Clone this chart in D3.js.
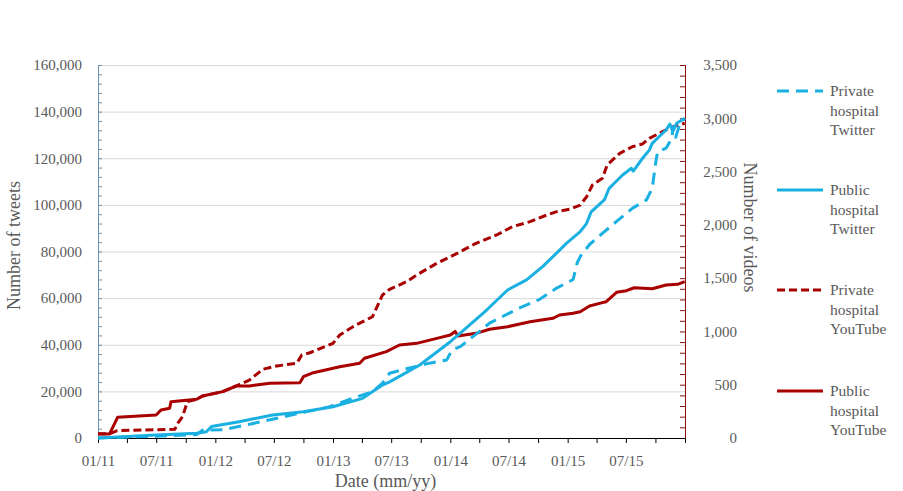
<!DOCTYPE html>
<html>
<head>
<meta charset="utf-8">
<script src="https://cdn.jsdelivr.net/npm/d3@7"></script>
<style>
  body { margin: 0; background: #fff; }
  svg text { font-family: "Liberation Serif", "Times New Roman", serif; fill: #595959; }
</style>
</head>
<body>
<svg id="chart" width="903" height="491"></svg>
<script>
// Private hospital Twitter (tweets, left axis)
const privTwDates = ['2011-01-01','2011-07-01','2011-11-04','2011-11-22','2012-01-24','2012-04-07','2012-10-12','2012-12-22','2013-03-03','2013-05-04','2013-06-04','2013-06-26','2013-08-27','2013-10-28','2013-12-21','2014-01-06','2014-02-01','2014-04-01','2014-05-03','2014-08-03','2014-10-06','2014-11-28','2015-01-18','2015-01-31','2015-02-10','2015-03-10','2015-04-19','2015-06-03','2015-07-21','2015-09-03','2015-09-21','2015-10-03','2015-10-08','2015-11-03','2015-11-21','2015-11-25','2015-12-03','2015-12-15','2015-12-31'];
const privTwValues = [0,800,1500,3400,3500,5600,11300,13400,17100,19900,23500,27800,30000,32100,33500,37700,39200,45600,49300,55700,59500,64300,68000,75300,78000,83000,87800,93000,98500,102100,107100,119200,122800,124300,128500,133500,129000,134200,137100];

// Public hospital Twitter (tweets, left axis)
const pubTwDates = ['2011-01-01','2011-07-01','2011-11-04','2011-12-04','2011-12-20','2012-03-15','2012-06-27','2012-10-01','2013-01-01','2013-04-03','2013-06-04','2013-06-26','2013-09-28','2014-01-01','2014-02-01','2014-04-24','2014-06-28','2014-08-26','2014-10-15','2014-12-07','2014-12-28','2015-02-09','2015-03-01','2015-03-15','2015-04-25','2015-05-10','2015-06-21','2015-07-18','2015-07-24','2015-08-22','2015-09-12','2015-09-21','2015-11-03','2015-11-15','2015-11-24','2015-12-06','2015-12-31'];
const pubTwValues = [0,1300,2000,2700,4900,7000,9900,11300,13400,17000,22700,24100,31300,41300,45000,54900,63500,67800,73500,80600,83500,88500,92100,97000,102100,107100,112800,115700,114500,120000,123500,126400,132100,134700,131500,135000,137100];

// Private hospital YouTube (videos, right axis)
const privYtDates = ['2011-01-01','2011-02-06','2011-03-02','2011-08-28','2011-09-06','2011-09-21','2011-10-06','2011-11-04','2011-11-22','2012-01-24','2012-03-06','2012-04-16','2012-05-28','2012-07-10','2012-09-10','2012-09-26','2012-10-21','2013-01-01','2013-01-22','2013-03-13','2013-05-04','2013-06-04','2013-06-26','2013-08-18','2013-09-18','2013-11-20','2014-01-22','2014-03-22','2014-05-25','2014-07-13','2014-09-06','2014-10-28','2014-11-28','2015-01-07','2015-02-09','2015-03-01','2015-03-19','2015-04-19','2015-05-04','2015-06-12','2015-07-21','2015-08-22','2015-09-12','2015-10-23','2015-11-24','2015-12-31'];
const privYtValues = [40,40,69,82,138,200,341,363,394,435,488,544,645,676,701,779,800,888,966,1060,1138,1342,1395,1467,1529,1639,1733,1827,1905,1983,2030,2092,2124,2146,2186,2264,2374,2437,2562,2671,2733,2759,2812,2874,2921,2953];

// Public hospital YouTube (videos, right axis)
const pubYtDates = ['2011-01-01','2011-02-06','2011-03-03','2011-07-01','2011-07-16','2011-08-12','2011-08-16','2011-11-04','2011-11-22','2012-01-24','2012-03-06','2012-04-16','2012-05-07','2012-06-19','2012-09-20','2012-10-01','2012-11-01','2013-01-22','2013-03-25','2013-04-09','2013-06-16','2013-07-27','2013-09-18','2013-11-20','2014-01-01','2014-01-16','2014-01-25','2014-03-22','2014-05-03','2014-06-28','2014-09-06','2014-11-16','2014-12-07','2015-01-18','2015-02-09','2015-03-10','2015-04-19','2015-05-01','2015-06-02','2015-07-03','2015-07-27','2015-09-21','2015-11-03','2015-12-09','2015-12-31'];
const pubYtValues = [38,38,194,216,263,279,341,363,394,435,488,488,497,513,519,575,613,669,701,748,810,873,888,935,966,1000,957,982,1020,1044,1091,1123,1154,1170,1185,1238,1270,1279,1367,1382,1410,1400,1436,1442,1467];

const tweetTicks = [0,20000,40000,60000,80000,100000,120000,140000,160000];
const videoTicks = [0,500,1000,1500,2000,2500,3000,3500];
const legendNames = [['Private','hospital','Twitter'],['Public','hospital','Twitter'],['Private','hospital','YouTube'],['Public','hospital','YouTube']];

const blue = '#1ab0e2', red = '#a80000';

const svg = d3.select('#chart');
const plot = { left: 98, right: 685, top: 65, bottom: 438 };

const parse = d3.timeParse('%Y-%m-%d');
const x = d3.scaleTime()
    .domain([parse('2011-01-01'), parse('2016-01-01')])
    .range([plot.left, plot.right]);
const yL = d3.scaleLinear().domain([0, 160000]).range([plot.bottom, plot.top]);
const yR = d3.scaleLinear().domain([0, 3500]).range([plot.bottom, plot.top]);

// gridlines
svg.append('g')
    .attr('transform', `translate(${plot.left},0)`)
    .call(d3.axisLeft(yL).tickValues(tweetTicks.slice(1)).tickSize(-(plot.right - plot.left)).tickFormat(''))
    .call(g => g.select('.domain').remove())
    .call(g => g.selectAll('line').attr('stroke', '#d9d9d9'));

// left axis
const gL = svg.append('g').attr('transform', `translate(${plot.left},0)`);
gL.append('g').call(d3.axisLeft(yL).tickValues(d3.range(0, 160001, 4000)).tickSize(-4).tickFormat(''));
gL.append('g').call(d3.axisLeft(yL).tickValues(tweetTicks).tickSize(0).tickPadding(16).tickFormat(d3.format(',')));
gL.selectAll('.domain, line').attr('stroke', '#6f8fa8');
gL.selectAll('text').style('font-size', '15px').attr('fill', '#595959');

// right axis
const gR = svg.append('g').attr('transform', `translate(${plot.right},0)`);
gR.append('g').call(d3.axisRight(yR).tickValues(d3.range(0, 3501, 100)).tickSize(-5).tickFormat(''));
gR.append('g').call(d3.axisRight(yR).tickValues(videoTicks).tickSize(0).tickFormat(d3.format(',')));
gR.selectAll('.domain, line').attr('stroke', '#8b0d0d');
gR.selectAll('text').attr('x', 52).attr('text-anchor', 'end').style('font-size', '15px').attr('fill', '#595959');

// bottom axis
const gX = svg.append('g').attr('transform', `translate(0,${plot.bottom})`);
gX.call(d3.axisBottom(x)
    .ticks(d3.timeMonth.every(3))
    .tickSize(5)
    .tickPadding(12)
    .tickFormat(d => (d.getMonth() % 6 === 0 && d < x.domain()[1]) ? d3.timeFormat('%m/%y')(d) : ''));
gX.selectAll('.domain, line').attr('stroke', '#000');
gX.selectAll('text').style('font-size', '15px').attr('fill', '#595959');

// series
const series = [
  { dates: privTwDates, values: privTwValues, y: yL, color: blue, dash: '12,7' },
  { dates: pubTwDates, values: pubTwValues, y: yL, color: blue, dash: null },
  { dates: privYtDates, values: privYtValues, y: yR, color: red, dash: '8,4' },
  { dates: pubYtDates, values: pubYtValues, y: yR, color: red, dash: null }
];

const drawOrder = [3, 2, 0, 1];
drawOrder.forEach(i => {
  const s = series[i];
  const pts = s.dates.map((d, k) => [parse(d), s.values[k]]);
  svg.append('path')
      .datum(pts)
      .attr('fill', 'none')
      .attr('stroke', s.color)
      .attr('stroke-width', 3)
      .attr('stroke-linejoin', 'round')
      .attr('stroke-dasharray', s.dash)
      .attr('d', d3.line().x(p => x(p[0])).y(p => s.y(p[1])));
});

// axis titles
svg.append('text')
    .attr('transform', `translate(20,${(plot.top + plot.bottom) / 2 - 6}) rotate(-90)`)
    .attr('text-anchor', 'middle')
    .style('font-size', '18px')
    .text('Number of tweets');

svg.append('text')
    .attr('transform', `translate(744,${(plot.top + plot.bottom) / 2 - 24}) rotate(90)`)
    .attr('text-anchor', 'middle')
    .style('font-size', '18px')
    .text('Number of videos');

svg.append('text')
    .attr('x', (plot.left + plot.right) / 2 - 6)
    .attr('y', 487)
    .attr('text-anchor', 'middle')
    .style('font-size', '18px')
    .text('Date (mm/yy)');

// legend
const legendY = [91, 190, 290, 391];
series.forEach((s, i) => {
  const g = svg.append('g').attr('transform', `translate(777,${legendY[i]})`);
  g.append('line')
      .attr('x1', 0).attr('x2', 46)
      .attr('stroke', s.color)
      .attr('stroke-width', 3)
      .attr('stroke-dasharray', s.dash);
  g.selectAll('text')
      .data(legendNames[i])
      .join('text')
      .attr('x', 53)
      .attr('y', (d, k) => k * 19.5 + 5)
      .style('font-size', '15.5px')
      .text(d => d);
});
</script>
</body>
</html>
